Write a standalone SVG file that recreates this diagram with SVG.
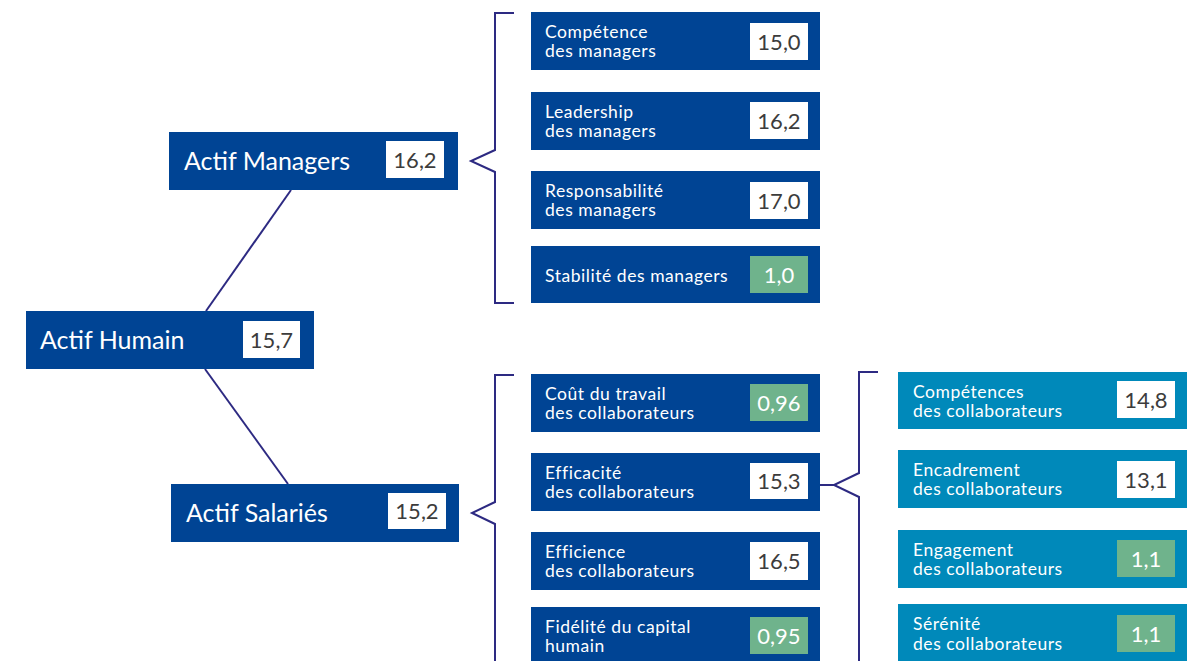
<svg xmlns="http://www.w3.org/2000/svg" width="1198" height="661" viewBox="0 0 1198 661">
<style>
.n{fill:#004494}
.t{fill:#0089ba}
.v{fill:#ffffff}
.g{fill:#6fb38c}
.lb{font-family:Lato,"Liberation Sans",sans-serif;font-size:17.5px;letter-spacing:0.55px;fill:#ffffff}
.big{font-family:Lato,"Liberation Sans",sans-serif;font-size:25px;fill:#ffffff}
.num{font-family:Lato,"Liberation Sans",sans-serif;font-size:22px;fill:#3c3c3c;text-anchor:middle}
.numw{font-family:Lato,"Liberation Sans",sans-serif;font-size:22px;fill:#ffffff;text-anchor:middle}
.c{fill:none;stroke:#2d2a82;stroke-width:2}
</style>
<rect width="1198" height="661" fill="#ffffff"/>
<g id="connectors">
<path class="c" d="M291,190 L206,311"/>
<path class="c" d="M205,369 L288,484"/>
<path class="c" d="M514,13 H495 V150 L471,161 L495,172 V303 H514"/>
<path class="c" d="M514,375 H495 V502 L472,513 L495,524 V670"/>
<path class="c" d="M878,372 H859 V473 L834,485 L859,497 V670"/>
<path class="c" d="M819,485 H834"/>
</g>
<g id="actif-humain">
<rect class="n" x="26" y="311" width="288" height="58"/>
<text class="big" x="40" y="349">Actif Humain</text>
<rect class="v" x="243" y="321" width="57" height="37"/>
<text class="num" x="271.5" y="347.5">15,7</text>
</g>
<g id="actif-managers">
<rect class="n" x="169" y="132" width="289" height="58"/>
<text class="big" x="184" y="170">Actif Managers</text>
<rect class="v" x="386" y="141" width="58" height="37"/>
<text class="num" x="415" y="167.5">16,2</text>
</g>
<g id="actif-salaries">
<rect class="n" x="171" y="484" width="288" height="58"/>
<text class="big" x="186" y="522">Actif Salariés</text>
<rect class="v" x="388" y="493" width="58" height="36"/>
<text class="num" x="417" y="519">15,2</text>
</g>
<g id="competence-managers">
<rect class="n" x="531" y="12" width="289" height="58"/>
<text class="lb" x="545" y="38">Compétence<tspan x="545" dy="19">des managers</tspan></text>
<rect class="v" x="750" y="23" width="58" height="37"/>
<text class="num" x="779" y="49.5">15,0</text>
</g>
<g id="leadership-managers">
<rect class="n" x="531" y="92" width="289" height="58"/>
<text class="lb" x="545" y="118">Leadership<tspan x="545" dy="19">des managers</tspan></text>
<rect class="v" x="750" y="102" width="58" height="37"/>
<text class="num" x="779" y="128.5">16,2</text>
</g>
<g id="responsabilite-managers">
<rect class="n" x="531" y="171" width="289" height="58"/>
<text class="lb" x="545" y="197">Responsabilité<tspan x="545" dy="19">des managers</tspan></text>
<rect class="v" x="750" y="182" width="58" height="37"/>
<text class="num" x="779" y="208.5">17,0</text>
</g>
<g id="stabilite-managers">
<rect class="n" x="531" y="246" width="289" height="57"/>
<text class="lb" x="545" y="282">Stabilité des managers</text>
<rect class="g" x="750" y="256" width="58" height="37"/>
<text class="numw" x="779" y="282.5">1,0</text>
</g>
<g id="cout-travail">
<rect class="n" x="531" y="374" width="289" height="58"/>
<text class="lb" x="545" y="400">Coût du travail<tspan x="545" dy="19">des collaborateurs</tspan></text>
<rect class="g" x="750" y="384" width="58" height="37"/>
<text class="numw" x="779" y="410.5">0,96</text>
</g>
<g id="efficacite">
<rect class="n" x="531" y="453" width="289" height="58"/>
<text class="lb" x="545" y="479">Efficacité<tspan x="545" dy="19">des collaborateurs</tspan></text>
<rect class="v" x="750" y="463" width="58" height="36"/>
<text class="num" x="779" y="489">15,3</text>
</g>
<g id="efficience">
<rect class="n" x="531" y="532" width="289" height="58"/>
<text class="lb" x="545" y="558">Efficience<tspan x="545" dy="19">des collaborateurs</tspan></text>
<rect class="v" x="750" y="542" width="58" height="38"/>
<text class="num" x="779" y="568.5">16,5</text>
</g>
<g id="fidelite">
<rect class="n" x="531" y="607" width="289" height="60"/>
<text class="lb" x="545" y="633">Fidélité du capital<tspan x="545" dy="19">humain</tspan></text>
<rect class="g" x="750" y="617" width="58" height="37"/>
<text class="numw" x="779" y="643.5">0,95</text>
</g>
<g id="competences-collab">
<rect class="t" x="898" y="372" width="289" height="57"/>
<text class="lb" x="913" y="398">Compétences<tspan x="913" dy="19">des collaborateurs</tspan></text>
<rect class="v" x="1117" y="381" width="58" height="37"/>
<text class="num" x="1146" y="407.5">14,8</text>
</g>
<g id="encadrement-collab">
<rect class="t" x="898" y="450" width="289" height="58"/>
<text class="lb" x="913" y="476">Encadrement<tspan x="913" dy="19">des collaborateurs</tspan></text>
<rect class="v" x="1117" y="461" width="58" height="37"/>
<text class="num" x="1146" y="487.5">13,1</text>
</g>
<g id="engagement-collab">
<rect class="t" x="898" y="530" width="289" height="58"/>
<text class="lb" x="913" y="556">Engagement<tspan x="913" dy="19">des collaborateurs</tspan></text>
<rect class="g" x="1117" y="540" width="58" height="37"/>
<text class="numw" x="1146" y="566.5">1,1</text>
</g>
<g id="serenite-collab">
<rect class="t" x="898" y="604" width="289" height="60"/>
<text class="lb" x="913" y="630">Sérénité<tspan x="913" dy="20">des collaborateurs</tspan></text>
<rect class="g" x="1117" y="615" width="58" height="37"/>
<text class="numw" x="1146" y="641.5">1,1</text>
</g>
</svg>
